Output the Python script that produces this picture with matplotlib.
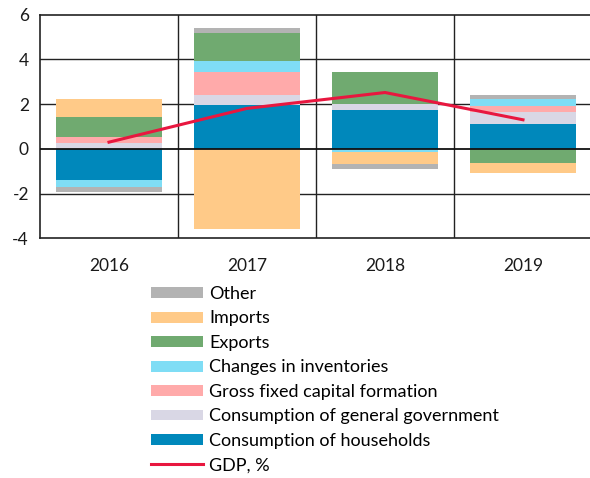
import matplotlib
matplotlib.use("Agg")
import matplotlib.pyplot as plt
from matplotlib.patches import Patch
from matplotlib.lines import Line2D
import numpy as np

plt.rcParams['font.family'] = ['Lato', 'DejaVu Sans']

years = ["2016", "2017", "2018", "2019"]
households = [-1.38, 1.94, 1.73, 1.12]
government = [0.24, 0.48, 0.26, 0.51]
gfcf = [0.28, 1.01, 0.00, 0.28]
inventories = [-0.32, 0.48, -0.12, 0.33]
exports = [0.91, 1.27, 1.46, -0.65]
imports = [0.78, -3.59, -0.57, -0.44]
other = [-0.21, 0.21, -0.23, 0.16]
gdp = [0.30, 1.81, 2.52, 1.30]

series = [
    ("Consumption of households", households, "#0088BB"),
    ("Consumption of general government", government, "#D9D7E5"),
    ("Gross fixed capital formation", gfcf, "#FFAAAA"),
    ("Changes in inventories", inventories, "#7FDDF5"),
    ("Exports", exports, "#70AA70"),
    ("Imports", imports, "#FFCA88"),
    ("Other", other, "#B3B3B3"),
]
gdp_color = "#E8173F"

fig = plt.figure(figsize=(5.9, 4.78), dpi=100)
ax = fig.add_axes([40/590, 1-238.3/478, 550/590, (238.3-14.7)/478])

x = np.arange(len(years))
pos_base = np.zeros(len(years))
neg_base = np.zeros(len(years))
for name, vals, col in series:
    v = np.array(vals, dtype=float)
    bottoms = np.where(v >= 0, pos_base, neg_base)
    ax.bar(x, v, bottom=bottoms, width=0.77, color=col, edgecolor='none', zorder=2)
    pos_base = pos_base + np.where(v >= 0, v, 0)
    neg_base = neg_base + np.where(v < 0, v, 0)

ax.plot(x, gdp, color=gdp_color, linewidth=2.2, zorder=4)

ax.set_ylim(-4, 6)
ax.set_xlim(-0.5, -0.5 + 550/138)
ax.set_yticks([-4, -2, 0, 2, 4, 6])
ax.set_yticklabels(["-4", "-2", "0", "2", "4", "6"])
ax.set_xticks(x)
ax.set_xticklabels(years)
ax.tick_params(length=0, labelsize=12.5, colors='#1a1a1a')
ax.tick_params(axis='x', pad=14)
ax.tick_params(axis='y', pad=8)
for yv in [-2, 2, 4]:
    ax.axhline(yv, color='#222222', linewidth=1.0, zorder=1)
ax.axhline(0, color='#111111', linewidth=1.3, zorder=3)
for xv in [0.5, 1.5, 2.5]:
    ax.axvline(xv, color='#222222', linewidth=1.0, zorder=1)
for s in ['left', 'top', 'bottom']:
    ax.spines[s].set_color('#222222')
    ax.spines[s].set_linewidth(1.2)
ax.spines['right'].set_visible(False)

handles = []
for name, vals, col in reversed(series):
    handles.append(Patch(facecolor=col, edgecolor='none', label=name))
handles.append(Line2D([0], [0], color=gdp_color, linewidth=2.2, label="GDP, %"))

fs = 13
fs_px = fs * 100 / 72
fig.legend(handles=handles, loc='upper left', bbox_to_anchor=(151/590, 1-286/478),
           frameon=False, fontsize=fs, handlelength=52/fs_px, handleheight=0.55,
           labelspacing=0.47, handletextpad=6/fs_px, borderaxespad=0, borderpad=0)

fig.savefig("out.png", dpi=100)
